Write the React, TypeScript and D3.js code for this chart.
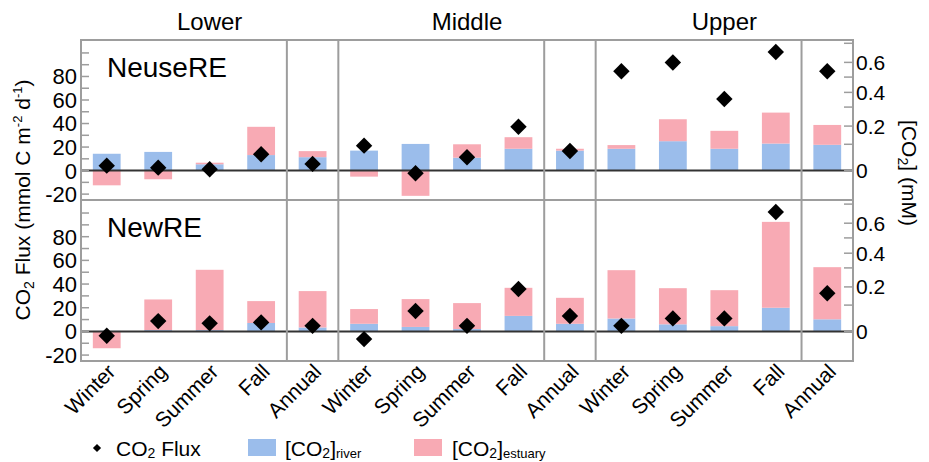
import React from "react";
import * as d3 from "d3";

// Estuary reaches and the period shown in each column
const REGIONS = ["Lower", "Middle", "Upper"];
const PERIODS = ["Winter", "Spring", "Summer", "Fall", "Annual"];

// NeuseRE: CO2 flux (mmol C m-2 d-1) and [CO2] components (mM)
const neuseFlux = [4.2, 2.5, 1.2, 13.9, 5.7, 21.2, -2.2, 11.4, 37.3, 16.7, 84.5, 91.9, 60.8, 100.8, 84.5];
const neuseRiver = [0.064, 0.071, 0.024, 0.059, 0.051, 0.076, 0.102, 0.049, 0.083, 0.076, 0.083, 0.117, 0.083, 0.104, 0.098];
const neuseEstuary = [-0.056, -0.033, 0.006, 0.137, 0.023, -0.023, -0.096, 0.051, 0.056, 0.007, 0.014, 0.119, 0.091, 0.167, 0.108];

// NewRE: CO2 flux (mmol C m-2 d-1) and [CO2] components (mM)
const newFlux = [-3.7, 8.7, 6.8, 7.6, 4.7, -6.5, 17.2, 4.7, 35.8, 13.0, 4.7, 11.0, 11.0, 100.8, 32.2];
const newRiver = [0.002, 0.005, 0.005, 0.032, 0.015, 0.029, 0.017, 0.009, 0.059, 0.029, 0.049, 0.027, 0.02, 0.09, 0.046];
const newEstuary = [-0.064, 0.126, 0.285, 0.09, 0.162, 0.056, 0.116, 0.102, 0.136, 0.111, 0.239, 0.166, 0.162, 0.517, 0.259];

// Axis ticks
const fluxTicks = [-20, -10, 0, 10, 20, 30, 40, 50, 60, 70, 80, 90, 100];
const fluxLabels = [-20, 0, 20, 40, 60, 80];
const concTicks = [0, 0.1, 0.2, 0.3, 0.4, 0.5, 0.6, 0.7];
const concLabels = [0, 0.2, 0.4, 0.6];

const BLUE = "#9bbdeb";
const PINK = "#f8aab4";
const FRAME = "#9d9d9d";
const FONT = "'Liberation Sans', Arial, Helvetica, sans-serif";

const W = 929;
const H = 462;
const X0 = 81;
const X1 = 853;

const panels = [
  { name: "NeuseRE", top: 40, bottom: 200, flux: neuseFlux, river: neuseRiver, estuary: neuseEstuary },
  { name: "NewRE", top: 200, bottom: 361, flux: newFlux, river: newRiver, estuary: newEstuary },
];

const columns = REGIONS.flatMap((r) => PERIODS.map((p) => `${r}-${p}`));

const x = d3.scaleBand<string>().domain(columns).range([X0, X1]).paddingInner(0.46).paddingOuter(0.23);
const step = x.step();
const bw = x.bandwidth();
const center = (i: number) => (x(columns[i]) as number) + bw / 2;
const boundary = (i: number) => center(i) - step / 2;

// Right-hand [CO2] axis spacing (pixels above the zero line for each 0.1 mM step)
const concStops = [0, 26.3, 44.5, 63.5, 78.2, 93.5, 108.2, 127.3];

const diamond = d3.symbol(d3.symbolSquare, 135)() as string;
const smallDiamond = d3.symbol(d3.symbolSquare, 34)() as string;

function Panel({ p }: { p: (typeof panels)[number] }) {
  const y = d3.scaleLinear().domain([-25, 111]).range([p.bottom, p.top]);
  const zeroY = y(0);
  const yc = d3.scaleLinear().domain(concTicks).range(concStops.map((s) => zeroY - s));

  const rows = columns.map((c, i) => ({ col: c, river: p.river[i], estuary: p.estuary[i] }));
  const series = d3
    .stack<any>()
    .keys(["river", "estuary"])
    .offset(d3.stackOffsetDiverging)(rows);

  return (
    <g>
      {series.map((s) => (
        <g key={s.key} fill={s.key === "river" ? BLUE : PINK}>
          {s.map((d, i) => {
            const a = yc(d[0]);
            const b = yc(d[1]);
            return (
              <rect key={i} x={x(columns[i])} width={bw} y={Math.min(a, b)} height={Math.abs(a - b)} />
            );
          })}
        </g>
      ))}
      <line x1={X0} x2={X1} y1={zeroY} y2={zeroY} stroke="#333" strokeWidth={2} />
      {p.flux.map((v, i) => (
        <path key={i} d={diamond} transform={`translate(${center(i)},${y(v)}) rotate(45)`} fill="#000" />
      ))}
      {/* left axis */}
      {fluxTicks.map((t) => (
        <line key={t} x1={X0} x2={X0 + 8} y1={y(t)} y2={y(t)} stroke={FRAME} strokeWidth={1.5} />
      ))}
      {fluxLabels.map((t) => (
        <text key={t} x={X0 - 4} y={y(t)} dy="0.36em" textAnchor="end" fontSize={22}>
          {t}
        </text>
      ))}
      {/* right axis */}
      {concTicks.map((t) => (
        <line key={t} x1={X1 - 9} x2={X1} y1={yc(t)} y2={yc(t)} stroke={FRAME} strokeWidth={1.5} />
      ))}
      {concLabels.map((t) => (
        <text key={t} x={X1 + 3} y={yc(t)} dy="0.36em" textAnchor="start" fontSize={21}>
          {t === 0 ? "0" : t.toFixed(1)}
        </text>
      ))}
      <rect x={X0} y={p.top} width={X1 - X0} height={p.bottom - p.top} fill="none" stroke={FRAME} strokeWidth={2} />
      <text x={107} y={p.top + 37} fontSize={28}>
        {p.name}
      </text>
    </g>
  );
}

export default function App() {
  const dividers = [4, 5, 9, 10, 14];
  const regionEdges = [boundary(0), boundary(5), boundary(10), X1];
  return (
    <svg
      width={W}
      height={H}
      viewBox={`0 0 ${W} ${H}`}
      style={{ position: "absolute", left: 0, top: 0, background: "#fff" }}
      fontFamily={FONT}
    >
      {REGIONS.map((r, k) => (
        <text key={r} x={(regionEdges[k] + regionEdges[k + 1]) / 2} y={30} textAnchor="middle" fontSize={24}>
          {r}
        </text>
      ))}
      {panels.map((p) => (
        <Panel key={p.name} p={p} />
      ))}
      {dividers.map((i) => (
        <line key={i} x1={boundary(i)} x2={boundary(i)} y1={40} y2={361} stroke={FRAME} strokeWidth={2} />
      ))}
      {columns.map((c, i) => (
        <text
          key={c}
          transform={`translate(${center(i) + 10},${373}) rotate(-45)`}
          textAnchor="end"
          fontSize={21}
        >
          {PERIODS[i % 5]}
        </text>
      ))}
      {/* axis titles */}
      <text transform="translate(30,200) rotate(-90)" textAnchor="middle" fontSize={21}>
        CO<tspan fontSize={14} dy={4}>2</tspan>
        <tspan dy={-4}> Flux (mmol C m</tspan>
        <tspan fontSize={13} dy={-8}>-2</tspan>
        <tspan dy={8}> d</tspan>
        <tspan fontSize={13} dy={-8}>-1</tspan>
        <tspan dy={8}>)</tspan>
      </text>
      <text transform="translate(902,173) rotate(90)" textAnchor="middle" fontSize={21}>
        [CO<tspan fontSize={14} dy={4}>2</tspan>
        <tspan dy={-4}>] (mM)</tspan>
      </text>
      {/* legend */}
      <path d={smallDiamond} transform="translate(97,448) rotate(45)" fill="#000" />
      <text x={116} y={456} fontSize={21}>
        CO<tspan fontSize={14} dy={2}>2</tspan>
        <tspan dy={-2}> Flux</tspan>
      </text>
      <rect x={248} y={439} width={28} height={17} fill={BLUE} />
      <text x={285} y={456} fontSize={21}>
        [CO<tspan fontSize={14} dy={2}>2</tspan>
        <tspan dy={-2}>]</tspan>
        <tspan fontSize={13} dy={2}>river</tspan>
      </text>
      <rect x={414} y={439} width={28} height={17} fill={PINK} />
      <text x={452} y={456} fontSize={21}>
        [CO<tspan fontSize={14} dy={2}>2</tspan>
        <tspan dy={-2}>]</tspan>
        <tspan fontSize={13} dy={2}>estuary</tspan>
      </text>
    </svg>
  );
}
